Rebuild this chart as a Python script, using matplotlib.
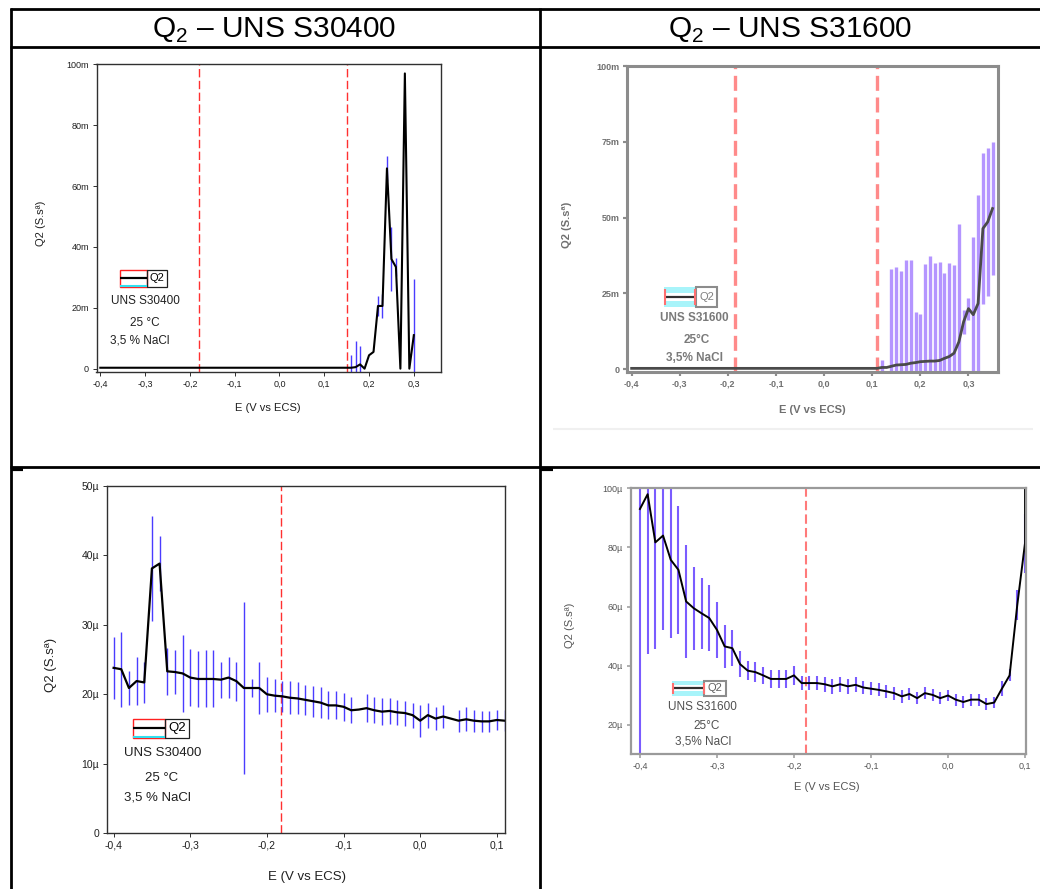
import matplotlib
matplotlib.use("Agg")
import matplotlib.pyplot as plt
from matplotlib import font_manager
from matplotlib.lines import Line2D
from matplotlib.patches import Rectangle

W, H = 1040, 889

# ---- datos: Q2 vs E ----
# S30400, barrido largo (valores en m)
E_304_a = [-0.40, -0.30, -0.20, -0.10, 0.00, 0.10, 0.15, 0.16, 0.17, 0.18, 0.19,
           0.20, 0.21, 0.22, 0.23, 0.24, 0.25, 0.26, 0.27, 0.28, 0.29, 0.30]
Q2_304_a = [0.3, 0.3, 0.3, 0.3, 0.3, 0.3, 0.3, 0.3, 0.5, 1.4, 0.0,
            4.4, 5.5, 20.6, 20.6, 65.8, 36.0, 33.4, 0.0, 97.0, 0.0, 11.0]
ERR_304_a = [0, 0, 0, 0, 0, 0, 0, 4.1, 8.5, 5.9, 0,
             0, 0, 3.4, 3.8, 4.2, 10.5, 3.0, 0, 0, 0, 18.6]

# S31600, barrido largo (valores en m)
E_316_a = [-0.40, -0.30, -0.20, -0.10, 0.00, 0.10, 0.11, 0.12, 0.13, 0.14, 0.15,
           0.16, 0.17, 0.18, 0.19, 0.20, 0.21, 0.22, 0.23, 0.24, 0.25, 0.26,
           0.27, 0.28, 0.29, 0.30, 0.31, 0.32, 0.33, 0.34, 0.35]
Q2_316_a = [0.3, 0.3, 0.3, 0.3, 0.3, 0.3, 0.3, 0.6, 0.6, 1.0, 1.4,
            1.5, 1.6, 2.0, 2.2, 2.5, 2.6, 2.7, 2.7, 2.9, 3.6, 4.2,
            5.3, 9.0, 15.7, 20.0, 18.0, 21.7, 46.4, 48.6, 53.0]
ERR_316_a = [0, 0, 0, 0, 0, 0, 0, 2.4, 0, 32.0, 32.3,
             30.8, 34.4, 34.0, 16.8, 15.7, 32.0, 34.6, 32.2, 32.5, 28.2, 30.8,
             29.0, 39.0, 4.0, 3.6, 25.6, 35.6, 25.0, 24.5, 22.0]

# S30400, barrido corto (valores en micro)
E_304_b = [-0.40, -0.39, -0.38, -0.37, -0.36, -0.35, -0.34, -0.33, -0.32, -0.31,
           -0.30, -0.29, -0.28, -0.27, -0.26, -0.25, -0.24, -0.23, -0.22, -0.21,
           -0.20, -0.19, -0.18, -0.17, -0.16, -0.15, -0.14, -0.13, -0.12, -0.11,
           -0.10, -0.09, -0.08, -0.07, -0.06, -0.05, -0.04, -0.03, -0.02, -0.01,
           0.00, 0.01, 0.02, 0.03, 0.04, 0.05, 0.06, 0.07, 0.08, 0.09, 0.10, 0.11]
Q2_304_b = [23.8, 23.6, 20.9, 21.9, 21.7, 38.1, 38.8, 23.3, 23.2, 23.0,
            22.4, 22.2, 22.2, 22.2, 22.1, 22.4, 21.9, 20.9, 20.9, 20.9,
            20.0, 19.8, 19.7, 19.5, 19.4, 19.2, 19.0, 18.8, 18.4, 18.4,
            18.2, 17.7, 17.8, 18.0, 17.7, 17.5, 17.6, 17.4, 17.3, 17.0,
            16.2, 17.0, 16.5, 16.8, 16.5, 16.2, 16.4, 16.2, 16.1, 16.1, 16.3, 16.2]
ERR_304_b = [4.5, 5.4, 2.4, 3.4, 3.0, 7.6, 3.9, 3.4, 3.2, 5.5,
             4.1, 4.0, 4.1, 4.1, 2.6, 2.9, 2.8, 12.4, 1.3, 3.7,
             2.5, 2.4, 2.2, 2.4, 2.3, 2.2, 2.2, 2.2, 2.0, 2.0,
             2.0, 1.9, 0.0, 2.0, 1.9, 1.9, 1.9, 1.8, 1.8, 1.8,
             2.3, 1.8, 1.7, 1.7, 0.0, 1.6, 1.7, 1.6, 1.5, 1.5, 1.5, 1.5]

# S31600, barrido corto (valores en micro)
E_316_b = [-0.40, -0.39, -0.38, -0.37, -0.36, -0.35, -0.34, -0.33, -0.32, -0.31,
           -0.30, -0.29, -0.28, -0.27, -0.26, -0.25, -0.24, -0.23, -0.22, -0.21,
           -0.20, -0.19, -0.18, -0.17, -0.16, -0.15, -0.14, -0.13, -0.12, -0.11,
           -0.10, -0.09, -0.08, -0.07, -0.06, -0.05, -0.04, -0.03, -0.02, -0.01,
           0.00, 0.01, 0.02, 0.03, 0.04, 0.05, 0.06, 0.07, 0.08, 0.09, 0.10, 0.10]
Q2_316_b = [93.0, 98.0, 81.7, 84.0, 75.8, 72.4, 61.7, 59.4, 57.7, 56.1,
            52.1, 46.5, 45.9, 40.5, 38.3, 37.8, 36.7, 35.5, 35.5, 35.5,
            36.7, 34.1, 34.1, 34.1, 33.7, 33.0, 33.7, 33.0, 33.5, 32.6,
            32.2, 31.8, 31.3, 30.7, 29.6, 30.4, 29.0, 30.7, 30.1, 29.0,
            29.9, 28.5, 27.7, 28.5, 28.5, 27.0, 27.5, 32.2, 36.7, 60.6, 81.4, 102.0]
ERR_316_b = [90.0, 54.0, 36.0, 32.0, 26.5, 21.7, 19.0, 14.0, 12.0, 11.2,
             9.5, 7.2, 6.0, 4.4, 3.2, 3.4, 3.0, 3.0, 3.0, 3.0,
             3.3, 2.5, 2.5, 2.5, 2.5, 2.5, 2.5, 2.5, 2.5, 2.3,
             2.3, 2.2, 2.2, 2.2, 2.2, 2.1, 2.1, 2.1, 2.1, 2.0,
             2.0, 2.0, 2.0, 2.0, 2.0, 2.0, 2.0, 2.5, 2.0, 5.0, 10.0, 0.0]

# potenciales marcados con lineas de trazos
DASH_304_a = [-0.18, 0.15]
DASH_316_a = [-0.185, 0.11]
DASH_304_b = [-0.182]
DASH_316_b = [-0.184]

XT_long = [-0.4, -0.3, -0.2, -0.1, 0.0, 0.1, 0.2, 0.3]
XT_long_lab = ['-0,4', '-0,3', '-0,2', '-0,1', '0,0', '0,1', '0,2', '0,3']
XT_short = [-0.4, -0.3, -0.2, -0.1, 0.0, 0.1]
XT_short_lab = ['-0,4', '-0,3', '-0,2', '-0,1', '0,0', '0,1']
YT_304_a = [0, 20, 40, 60, 80, 100]
YT_304_a_lab = ['0', '20m', '40m', '60m', '80m', '100m']
YT_316_a = [0, 25, 50, 75, 100]
YT_316_a_lab = ['0', '25m', '50m', '75m', '100m']
YT_304_b = [0, 10, 20, 30, 40, 50]
YT_304_b_lab = ['0', '10µ', '20µ', '30µ', '40µ', '50µ']
YT_316_b = [20, 40, 60, 80, 100]
YT_316_b_lab = ['20µ', '40µ', '60µ', '80µ', '100µ']

HEADERS = ['Q$_\\mathregular{2}$ – UNS S30400', 'Q$_\\mathregular{2}$ – UNS S31600']
XLABEL = 'E (V vs ECS)'
YLABEL = 'Q2 (S.sª)'

names = {f.name for f in font_manager.fontManager.ttflist}
NARROW = 'Liberation Sans Narrow' if 'Liberation Sans Narrow' in names else 'Liberation Sans'
plt.rcParams['font.family'] = [NARROW, 'DejaVu Sans']
plt.rcParams['mathtext.fontset'] = 'custom'
plt.rcParams['mathtext.rm'] = 'Liberation Sans'

fig = plt.figure(figsize=(W / 100, H / 100), dpi=100)


def fx(x):
    return x / W


def fy(y):
    return 1 - y / H


def hline(x0, x1, y, color='black', lw=2.0):
    fig.add_artist(Line2D([fx(x0), fx(x1)], [fy(y), fy(y)], color=color, lw=lw,
                          transform=fig.transFigure, solid_capstyle='butt'))


def vline(x, y0, y1, color='black', lw=2.0):
    fig.add_artist(Line2D([fx(x), fx(x)], [fy(y0), fy(y1)], color=color, lw=lw,
                          transform=fig.transFigure, solid_capstyle='butt'))


def rect(x0, y0, x1, y1, **kw):
    fig.add_artist(Rectangle((fx(x0), fy(y1)), (x1 - x0) / W, (y1 - y0) / H,
                             transform=fig.transFigure, **kw))


# --- tabla ---
hline(10, 1040, 8.5)
hline(10, 1040, 46.5)
hline(10, 1040, 467)
vline(11, 7.5, 889)
vline(540, 7.5, 889)
hline(11, 23, 469, lw=3)
hline(540, 553, 469, lw=3)
hline(553, 1033, 429, color='#f0f0f0', lw=1.5)

fig.text(fx(274), fy(30.5), HEADERS[0], ha='center', va='center', fontsize=21.5,
         family='Liberation Sans')
fig.text(fx(790), fy(30.5), HEADERS[1], ha='center', va='center', fontsize=21.5,
         family='Liberation Sans')


def make_axes(box, xlim, ylim, xt, xtl, yt, ytl, frame, flw, tcol, tsize, weight,
              xl_pos, yl_pos, lsize, lcol):
    l, t, r, b = box
    ax = fig.add_axes([l / W, 1 - b / H, (r - l) / W, (b - t) / H])
    ax.set_xlim(*xlim)
    ax.set_ylim(*ylim)
    ax.set_xticks(xt)
    ax.set_xticklabels(xtl)
    ax.set_yticks(yt)
    ax.set_yticklabels(ytl)
    for s in ax.spines.values():
        s.set_color(frame)
        s.set_linewidth(flw)
    ax.tick_params(direction='out', length=3, width=max(flw * 0.7, 0.6), colors=frame,
                   labelcolor=tcol, labelsize=tsize, pad=2.5)
    for lab in ax.get_xticklabels() + ax.get_yticklabels():
        lab.set_fontweight(weight)
    ax.set_xlabel(XLABEL, fontsize=lsize, color=lcol, fontweight=weight)
    ax.set_ylabel(YLABEL, fontsize=lsize, color=lcol, fontweight=weight)
    ax.xaxis.label.set_va('center')
    ax.yaxis.label.set_va('center')
    ax.xaxis.set_label_coords((xl_pos[0] - l) / (r - l), (b - xl_pos[1]) / (b - t))
    ax.yaxis.set_label_coords((yl_pos[0] - l) / (r - l), (b - yl_pos[1]) / (b - t))
    return ax


def legend_red(x0, x1, x2, y0, y1, size):
    ym = (y0 + y1) / 2
    rect(x0, y0, x1, y1, fill=False, edgecolor='#ff2020', lw=1.0)
    hline(x0, x1, y1 - 0.5, color='#30e0f0', lw=1.5)
    hline(x0, x1, ym, color='black', lw=1.6)
    rect(x1, y0, x2, y1, fill=False, edgecolor='#202020', lw=0.9)
    fig.text(fx((x1 + x2) / 2), fy(ym), 'Q2', ha='center', va='center', fontsize=size)


def legend_cyan(x0, x1, x2, y0, y1, size, box_col, txt_col):
    ym = (y0 + y1) / 2
    h = y1 - y0
    rect(x0, y0, x1, y0 + h * 0.3, facecolor='#a8f4fa', edgecolor='none')
    rect(x0, y1 - h * 0.3, x1, y1, facecolor='#a8f4fa', edgecolor='none')
    hline(x0, x1, ym, color='#303030', lw=1.6)
    vline(x0 + 0.8, y0 + 2, y1 - 2, color='#ff7070', lw=1.5)
    vline(x1 - 0.8, y0 + 2, y1 - 2, color='#ff7070', lw=1.5)
    rect(x1, y0, x2, y1, fill=False, edgecolor=box_col, lw=1.5)
    fig.text(fx((x1 + x2) / 2), fy(ym), 'Q2', ha='center', va='center', fontsize=size,
             color=txt_col)


def notes(lines, size, color='#202020', weight='normal'):
    for (x, y, s) in lines:
        fig.text(fx(x), fy(y), s, ha='center', va='center', fontsize=size, color=color,
                 fontweight=weight)


# --- panel 1: S30400 barrido largo ---
ax1 = make_axes((96.5, 64.3, 440.7, 371.7), (-0.4085, 0.36), (-1.0, 100),
                XT_long, XT_long_lab, YT_304_a, YT_304_a_lab,
                '#303030', 1.0, '#202020', 6.5, 'normal', (268, 408), (41, 223), 8, '#202020')
for x in DASH_304_a:
    ax1.axvline(x, color='#ff3030', lw=1.0, dashes=(6, 2.5))
ax1.errorbar(E_304_a, Q2_304_a, yerr=ERR_304_a, fmt='none', ecolor='#4a3cff',
             elinewidth=1.0, capsize=0)
ax1.plot(E_304_a, Q2_304_a, color='black', lw=1.5)
legend_red(119.7, 146.6, 166.6, 270, 286.7, 8)
notes([(145, 301, 'UNS S30400'), (145, 322.7, '25 °C'), (140, 340, '3,5 % NaCl')], 8.5)

# --- panel 2: S31600 barrido largo ---
ax2 = make_axes((627.3, 66, 998.3, 371.7), (-0.409, 0.362), (-0.8, 100),
                XT_long, XT_long_lab, YT_316_a, YT_316_a_lab,
                '#8c8c8c', 2.2, '#707070', 6.5, 'bold', (812, 410), (567, 225), 8, '#707070')
for x in DASH_316_a:
    ax2.axvline(x, color='#ff8a8a', lw=2.4, dashes=(4.5, 2))
ax2.errorbar(E_316_a, Q2_316_a, yerr=ERR_316_a, fmt='none', ecolor='#b495ff',
             elinewidth=2.4, capsize=0)
ax2.plot(E_316_a, Q2_316_a, color='#4a4a4a', lw=2.0)
legend_cyan(664, 696, 717, 287, 307, 8, '#8c8c8c', '#808080')
notes([(694, 318, 'UNS S31600'), (697, 340, '25°C'), (694, 358, '3,5% NaCl')], 8.5,
      color='#7a7a7a', weight='bold')

# --- panel 3: S30400 barrido corto ---
ax3 = make_axes((106.7, 485.7, 504.5, 833.3), (-0.409, 0.11), (0, 50),
                XT_short, XT_short_lab, YT_304_b, YT_304_b_lab,
                '#303030', 1.0, '#202020', 7.5, 'normal', (306.5, 876.7), (51, 665), 9.5, '#202020')
for x in DASH_304_b:
    ax3.axvline(x, color='#ff3030', lw=1.0, dashes=(6, 2.5))
ax3.errorbar(E_304_b, Q2_304_b, yerr=ERR_304_b, fmt='none', ecolor='#4a3cff',
             elinewidth=1.0, capsize=0)
ax3.plot(E_304_b, Q2_304_b, color='black', lw=1.6)
legend_red(132.6, 165.3, 188.7, 719, 737.7, 9.5)
notes([(162.5, 753, 'UNS S30400'), (161.8, 778, '25 °C'), (157.4, 798, '3,5 % NaCl')], 9.5)

# --- panel 4: S31600 barrido corto ---
ax4 = make_axes((630.7, 488.3, 1026, 754.3), (-0.412, 0.1013), (10, 100),
                XT_short, XT_short_lab, YT_316_b, YT_316_b_lab,
                '#9a9a9a', 1.6, '#555555', 6.5, 'normal', (827, 786.7), (570, 625), 8, '#555555')
for x in DASH_316_b:
    ax4.axvline(x, color='#ff7a7a', lw=1.5, dashes=(4.5, 2))
ax4.errorbar(E_316_b, Q2_316_b, yerr=ERR_316_b, fmt='none', ecolor='#7a5cff',
             elinewidth=1.5, capsize=0)
ax4.plot(E_316_b, Q2_316_b, color='black', lw=1.4)
legend_cyan(672, 704.3, 726, 681, 695.7, 8, '#8c8c8c', '#606060')
notes([(702.7, 707.3, 'UNS S31600'), (706.7, 725.7, '25°C'), (703, 741, '3,5% NaCl')], 8.5,
      color='#505050')

fig.savefig('out.png', dpi=100, facecolor='white')
